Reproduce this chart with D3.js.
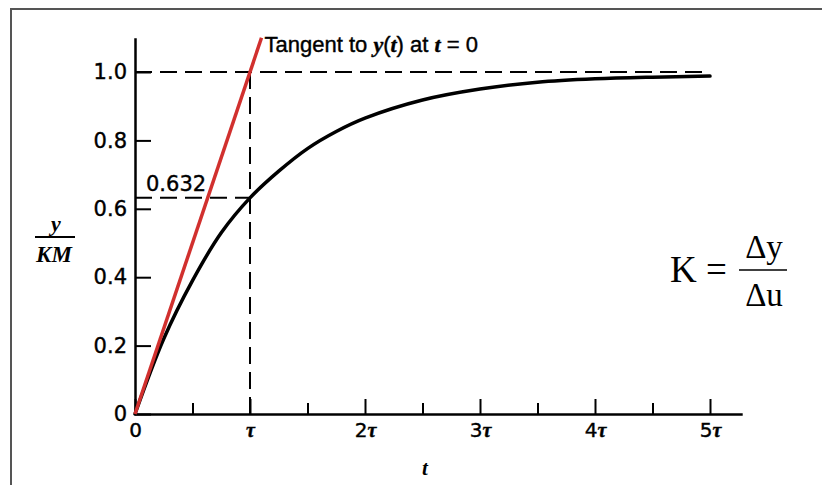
<!DOCTYPE html>
<html>
<head>
<meta charset="utf-8">
<script src="https://cdn.jsdelivr.net/npm/d3@7"></script>
<style>
  html, body { margin: 0; padding: 0; background: #fff; }
  svg { display: block; }
</style>
</head>
<body>
<svg id="chart" width="822" height="485"></svg>
<script>
// Step response of a first-order system, time in units of tau
const responseT = [0, 0.25, 0.5, 0.75, 1, 1.25, 1.5, 1.75, 2, 2.5, 3, 3.5, 4, 4.5, 5];
const responseY = [0, 0.22, 0.39, 0.53, 0.632, 0.71, 0.776, 0.826, 0.865, 0.918, 0.95, 0.97, 0.98, 0.985, 0.988];

// Tangent at t = 0
const tangentT = [0, 1.1];
const tangentY = [0, 1.1];

// Reference levels
const tauValue = 1;
const finalValue = 1.0;
const tauLevel = 0.632;

// Axis ticks
const xMajorTicks = [0, 1, 2, 3, 4, 5];
const xMinorTicks = [0.5, 1.5, 2.5, 3.5, 4.5];
const xTickLabels = ["0", "τ", "2τ", "3τ", "4τ", "5τ"];
const yTicks = [0, 0.2, 0.4, 0.6, 0.8, 1.0];
const yTickLabels = ["0", "0.2", "0.4", "0.6", "0.8", "1.0"];

const svg = d3.select("#chart");

// frame lines
svg.append("path")
  .attr("d", "M11,485 L11,9 L822,9")
  .attr("fill", "none")
  .attr("stroke", "#555")
  .attr("stroke-width", 2);

const x = d3.scaleLinear().domain([0, 5.28]).range([135, 742.2]);
const y = d3.scaleLinear().domain([0, 1.1]).range([414, 37.8]);

const tickFont = "'DejaVu Sans', sans-serif";
const inkStroke = sel => sel.attr("stroke", "#000").attr("stroke-width", 0.4);

// x axis: major ticks with labels
const xAxis = svg.append("g")
  .attr("transform", `translate(0,${y(0)})`)
  .call(d3.axisBottom(x).tickValues(xMajorTicks).tickSizeInner(-15).tickSizeOuter(0)
    .tickPadding(9).tickFormat(() => ""));
xAxis.select(".domain").attr("stroke", "#000").attr("stroke-width", 2.5);
xAxis.selectAll(".tick line").attr("stroke", "#000").attr("stroke-width", 2);
xAxis.selectAll(".tick text").each(function(d, i) {
  const t = d3.select(this)
    .attr("font-family", tickFont)
    .attr("font-size", 20)
    .attr("fill", "#000")
    .call(inkStroke);
  const lab = xTickLabels[i];
  if (lab.endsWith("τ")) {
    const num = lab.slice(0, -1);
    if (num) t.append("tspan").text(num);
    t.append("tspan")
      .attr("font-family", "'Liberation Serif', serif")
      .attr("font-style", "italic")
      .attr("font-weight", "bold")
      .attr("font-size", 20)
      .text("τ");
  } else {
    t.text(lab);
  }
});

// x axis: minor ticks
const xMinor = svg.append("g")
  .attr("transform", `translate(0,${y(0)})`)
  .call(d3.axisBottom(x).tickValues(xMinorTicks).tickSizeInner(-11).tickSizeOuter(0)
    .tickFormat(() => ""));
xMinor.select(".domain").remove();
xMinor.selectAll(".tick line").attr("stroke", "#000").attr("stroke-width", 2);

// y axis
const yAxis = svg.append("g")
  .attr("transform", `translate(${x(0)},0)`)
  .call(d3.axisLeft(y).tickValues(yTicks).tickSizeInner(-16).tickSizeOuter(0)
    .tickPadding(8).tickFormat((d, i) => yTickLabels[i]));
yAxis.select(".domain").attr("stroke", "#000").attr("stroke-width", 2.5);
yAxis.selectAll(".tick line").attr("stroke", "#000").attr("stroke-width", 2);
yAxis.selectAll(".tick text")
  .attr("font-family", tickFont)
  .attr("font-size", 21)
  .attr("fill", "#000")
  .call(inkStroke);

// dashed guide lines
const dash = "17,8";
const guides = svg.append("g")
  .attr("stroke", "#000")
  .attr("stroke-width", 2)
  .attr("stroke-dasharray", dash)
  .attr("fill", "none");
guides.append("line")
  .attr("x1", x(0)).attr("x2", x(5))
  .attr("y1", y(finalValue)).attr("y2", y(finalValue));
guides.append("line")
  .attr("x1", x(tauValue)).attr("x2", x(tauValue))
  .attr("y1", y(finalValue)).attr("y2", y(0));
guides.append("line")
  .attr("x1", x(0)).attr("x2", x(tauValue))
  .attr("y1", y(tauLevel)).attr("y2", y(tauLevel));

// response curve
const line = d3.line()
  .x(d => x(d[0]))
  .y(d => y(d[1]))
  .curve(d3.curveCatmullRom.alpha(0.5));

svg.append("path")
  .datum(responseT.map((t, i) => [t, responseY[i]]))
  .attr("d", line)
  .attr("fill", "none")
  .attr("stroke", "#000")
  .attr("stroke-width", 3.5)
  .attr("stroke-linecap", "round");

// tangent line
svg.append("path")
  .datum(tangentT.map((t, i) => [t, tangentY[i]]))
  .attr("d", d3.line().x(d => x(d[0])).y(d => y(d[1])))
  .attr("fill", "none")
  .attr("stroke", "#d1302e")
  .attr("stroke-width", 3.5);

// 0.632 label
svg.append("text")
  .attr("x", x(0) + 11)
  .attr("y", y(tauLevel) - 7)
  .attr("font-family", tickFont)
  .attr("font-size", 21)
  .call(inkStroke)
  .text(tauLevel.toString());

// tangent annotation
const ann = svg.append("text")
  .attr("x", x(tangentT[1]) + 3)
  .attr("y", 52)
  .attr("font-family", "'Liberation Sans', sans-serif")
  .attr("font-size", 22)
  .attr("fill", "#000")
  .call(inkStroke);
const it = s => ann.append("tspan")
  .attr("font-family", "'Liberation Serif', serif")
  .attr("font-style", "italic").attr("font-weight", "bold").text(s);
ann.append("tspan").text("Tangent to ");
it("y");
ann.append("tspan").text("(");
it("t");
ann.append("tspan").text(") at ");
it("t");
ann.append("tspan").text(" = 0");

// y axis label as a fraction
const serifBI = "'Liberation Serif', serif";
svg.append("text")
  .attr("x", 56).attr("y", 231)
  .attr("text-anchor", "middle")
  .attr("font-family", serifBI).attr("font-style", "italic").attr("font-weight", "bold")
  .attr("font-size", 22).text("y");
svg.append("line")
  .attr("x1", 35).attr("x2", 75).attr("y1", 237).attr("y2", 237)
  .attr("stroke", "#000").attr("stroke-width", 2.2);
svg.append("text")
  .attr("x", 54).attr("y", 262)
  .attr("text-anchor", "middle")
  .attr("font-family", serifBI).attr("font-style", "italic").attr("font-weight", "bold")
  .attr("font-size", 23).text("KM");

// x axis label
svg.append("text")
  .attr("x", 425).attr("y", 475)
  .attr("text-anchor", "middle")
  .attr("font-family", serifBI).attr("font-style", "italic").attr("font-weight", "bold")
  .attr("font-size", 21).text("t");

// gain definition
const formula = svg.append("g")
  .attr("font-family", "'Liberation Serif', serif")
  .attr("fill", "#000");
formula.append("text")
  .attr("x", 670).attr("y", 282)
  .attr("font-size", 37)
  .text("K =");
formula.append("line")
  .attr("x1", 739).attr("x2", 787).attr("y1", 270).attr("y2", 270)
  .attr("stroke", "#000").attr("stroke-width", 1.5);
formula.append("text")
  .attr("x", 764).attr("y", 258)
  .attr("text-anchor", "middle")
  .attr("font-size", 33)
  .text("Δy");
formula.append("text")
  .attr("x", 764).attr("y", 306)
  .attr("text-anchor", "middle")
  .attr("font-size", 33)
  .text("Δu");
</script>
</body>
</html>
